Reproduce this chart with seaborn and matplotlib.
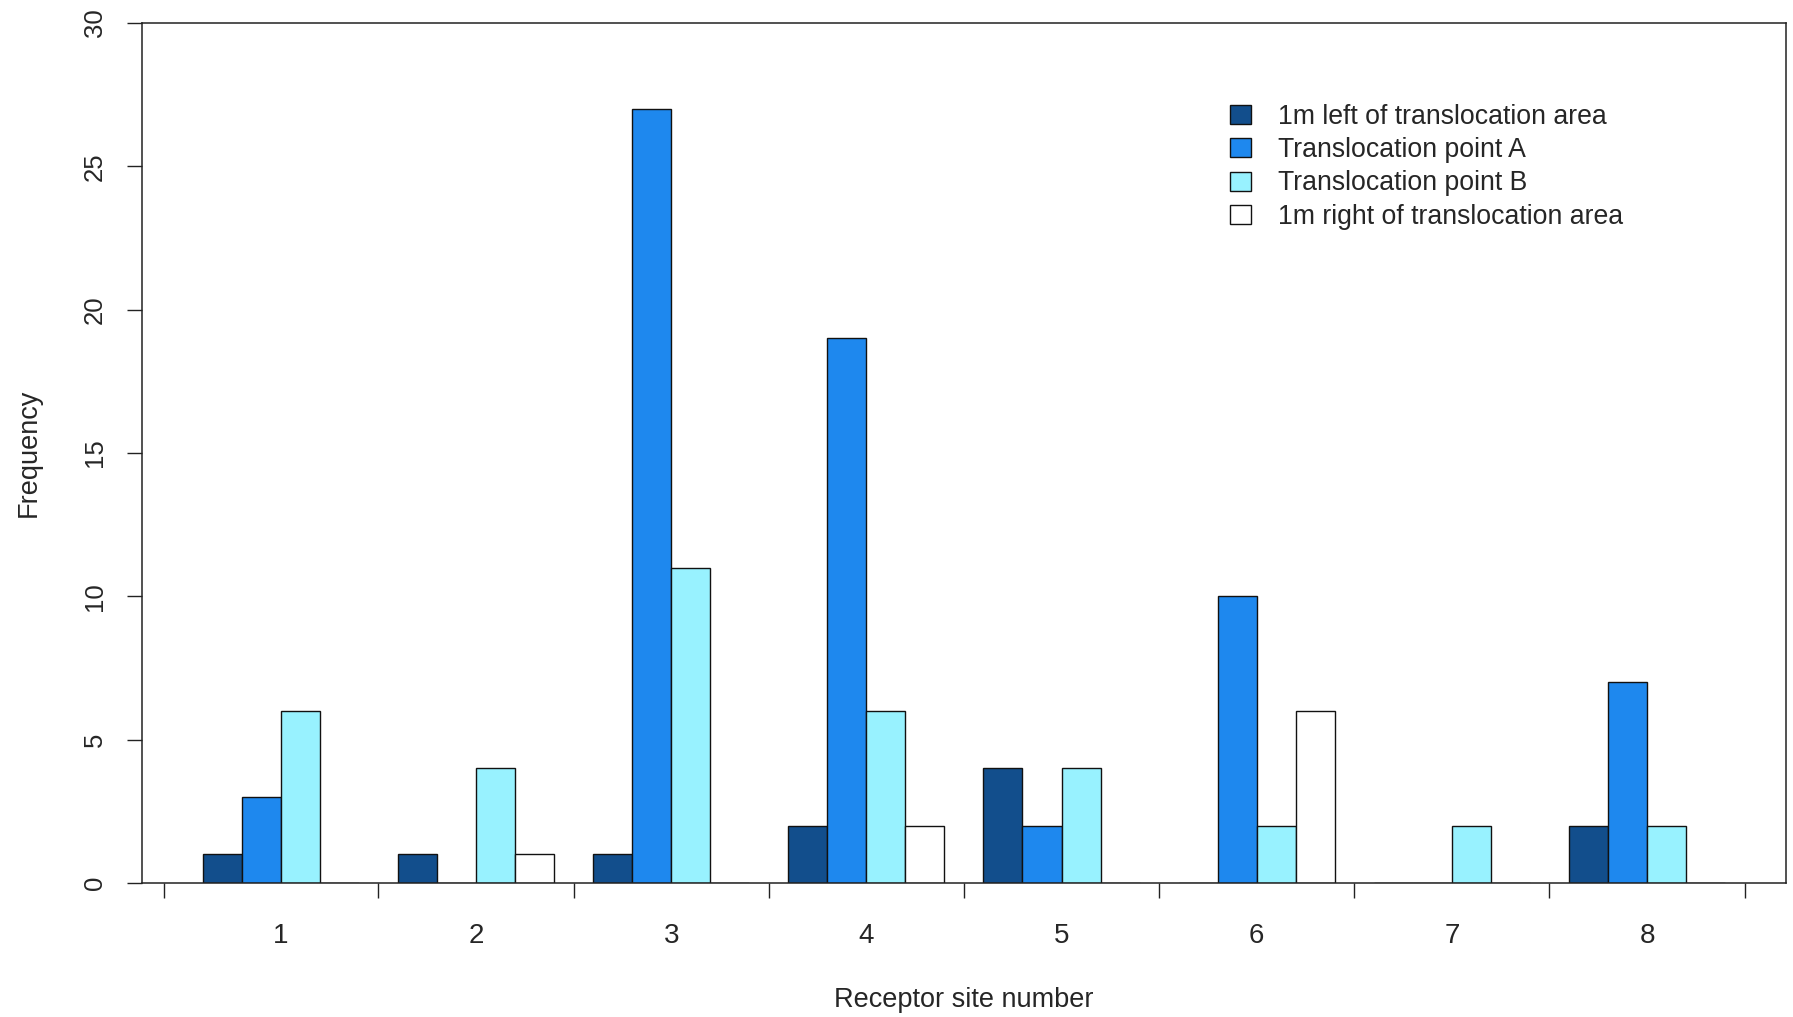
import matplotlib
matplotlib.use("Agg")
import matplotlib.pyplot as plt
from matplotlib.patches import Patch
import seaborn as sns
import pandas as pd

# Counts per receptor site for each observation position
sites = ["1", "2", "3", "4", "5", "6", "7", "8"]
left_1m = [1, 1, 1, 2, 4, 0, 0, 2]
point_a = [3, 0, 27, 19, 2, 10, 0, 7]
point_b = [6, 4, 11, 6, 4, 2, 2, 2]
right_1m = [0, 1, 0, 2, 0, 6, 0, 0]

series_names = [
    "1m left of translocation area",
    "Translocation point A",
    "Translocation point B",
    "1m right of translocation area",
]
series_values = [left_1m, point_a, point_b, right_1m]
series_colors = ["#124E8C", "#1E88EE", "#98F2FF", "#FFFFFF"]

y_ticks = [0, 5, 10, 15, 20, 25, 30]

rows = []
for name, vals in zip(series_names, series_values):
    for site, v in zip(sites, vals):
        rows.append({"site": site, "series": name, "count": v})
df = pd.DataFrame(rows)

sns.set_theme(style="white")
plt.rcParams["font.family"] = ["Liberation Sans", "DejaVu Sans"]
text_color = "#262626"

fig = plt.figure(figsize=(17.93, 10.17), dpi=100)
ax = fig.add_axes([0.0791, 0.1318, 0.9170, 0.8456])

sns.barplot(
    data=df, x="site", y="count", hue="series",
    order=sites, hue_order=series_names, palette=series_colors,
    width=0.8, edgecolor="#111111", linewidth=1.0,
    saturation=1, legend=False, ax=ax,
)

ax.set_xlim(-0.712, 7.712)
ax.set_ylim(0, 30)

# group boundary ticks (unlabelled) and site labels at the group centres
ax.set_xticks([-0.6] + [i + 0.5 for i in range(8)])
ax.set_xticklabels([])
ax.set_xticks(range(8), minor=True)
ax.set_xticklabels(sites, minor=True, fontsize=20, color=text_color)
ax.tick_params(axis="x", which="major", direction="out", length=11,
               width=1.0, color="#222222", bottom=True)
ax.tick_params(axis="x", which="minor", length=0, pad=29, bottom=True)

ax.set_yticks(y_ticks)
ax.set_yticklabels([str(t) for t in y_ticks], rotation=90, va="center",
                   fontsize=18.5, color=text_color)
ax.tick_params(axis="y", direction="out", length=11, width=1.0,
               color="#222222", left=True, pad=14)

for sp in ax.spines.values():
    sp.set_visible(True)
    sp.set_color("#222222")
    sp.set_linewidth(1.1)

ax.set_xlabel("Receptor site number", fontsize=19.5, color=text_color)
ax.set_ylabel("Frequency", fontsize=19.5, color=text_color)
ax.xaxis.set_label_coords(0.5, -0.121)
ax.yaxis.set_label_coords(-0.061, 0.5)

handles = [Patch(facecolor=c, edgecolor="#111111", linewidth=1.0)
           for c in series_colors]
ax.legend(handles, series_names, loc="upper left",
          bbox_to_anchor=(0.662, 0.906), frameon=False, fontsize=19.2,
          handlelength=0.78, handleheight=0.72, handletextpad=1.0,
          labelspacing=0.275, borderpad=0, borderaxespad=0,
          labelcolor=text_color)

fig.savefig("out.png", dpi=100, facecolor="white")
